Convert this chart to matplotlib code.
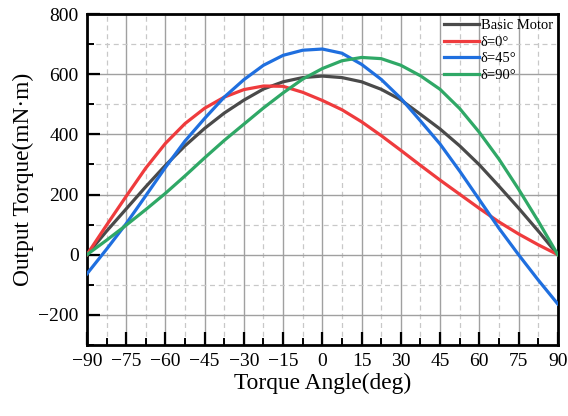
import matplotlib
matplotlib.use("Agg")
import matplotlib.pyplot as plt
from matplotlib.ticker import MultipleLocator

plt.rcParams['font.family'] = ['Liberation Serif', 'DejaVu Serif']

angle = [-90, -82.5, -75, -67.5, -60, -52.5, -45, -37.5, -30, -22.5, -15, -7.5, 0,
         7.5, 15, 22.5, 30, 37.5, 45, 52.5, 60, 67.5, 75, 82.5, 90]
basic = [0, 78, 152, 226, 297, 362, 420, 471, 514, 551, 575, 589, 594,
         589, 575, 550, 515, 467, 418, 362, 299, 228, 155, 79, 0]
delta0 = [0, 98, 194, 288, 370, 436, 487, 524, 549, 561, 560, 540, 513,
          482, 442, 396, 347, 297, 248, 201, 154, 109, 69, 33, 0]
delta45 = [-64, 18, 103, 196, 290, 378, 453, 524, 582, 630, 663, 680, 684,
           670, 633, 583, 520, 445, 368, 278, 183, 88, 0, -84, -164]
delta90 = [0, 48, 98, 150, 204, 262, 322, 380, 434, 488, 538, 584, 619,
           645, 656, 652, 630, 595, 550, 486, 407, 318, 218, 112, 0]

labels = ["Basic Motor", "δ=0°", "δ=45°", "δ=90°"]
series = [basic, delta0, delta45, delta90]
colors = ["#4a4a4a", "#ef3b3d", "#1f6fdf", "#2fa866"]

fig = plt.figure(figsize=(5.68, 4.16), dpi=100)
ax = fig.add_axes([0.153, 0.171, 0.829, 0.795])

for s, c, l in zip(series, colors, labels):
    ax.plot(angle, s, color=c, lw=2.3, label=l, zorder=3,
            solid_joinstyle='round')

ax.set_xlim(-90, 90)
ax.set_ylim(-300, 800)
ax.xaxis.set_major_locator(MultipleLocator(15))
ax.xaxis.set_minor_locator(MultipleLocator(7.5))
ax.yaxis.set_major_locator(MultipleLocator(200))
ax.yaxis.set_minor_locator(MultipleLocator(100))

ax.grid(which='major', color='#a0a0a0', lw=1.0, ls='-', zorder=0)
ax.grid(which='minor', color='#c8c8c8', lw=0.9, ls=(0, (4, 3)), zorder=0)
ax.set_axisbelow(True)

ax.tick_params(which='major', direction='in', length=9.5, width=1.6, labelsize=14,
               top=False, right=False, pad=6)
ax.tick_params(which='minor', direction='in', length=5, width=1.4,
               top=False, right=False)
for sp in ax.spines.values():
    sp.set_linewidth(2.0)

ax.set_xlabel("Torque Angle(deg)", fontsize=16.8, labelpad=2)
ax.set_ylabel("Output Torque(mN·m)", fontsize=16.8, labelpad=3)

leg = ax.legend(loc='upper right', frameon=False, fontsize=10.5, handlelength=2.4,
                handletextpad=0.1, labelspacing=0.22, borderaxespad=0.15,
                borderpad=0.2)

fig.savefig("out.png", dpi=100)
